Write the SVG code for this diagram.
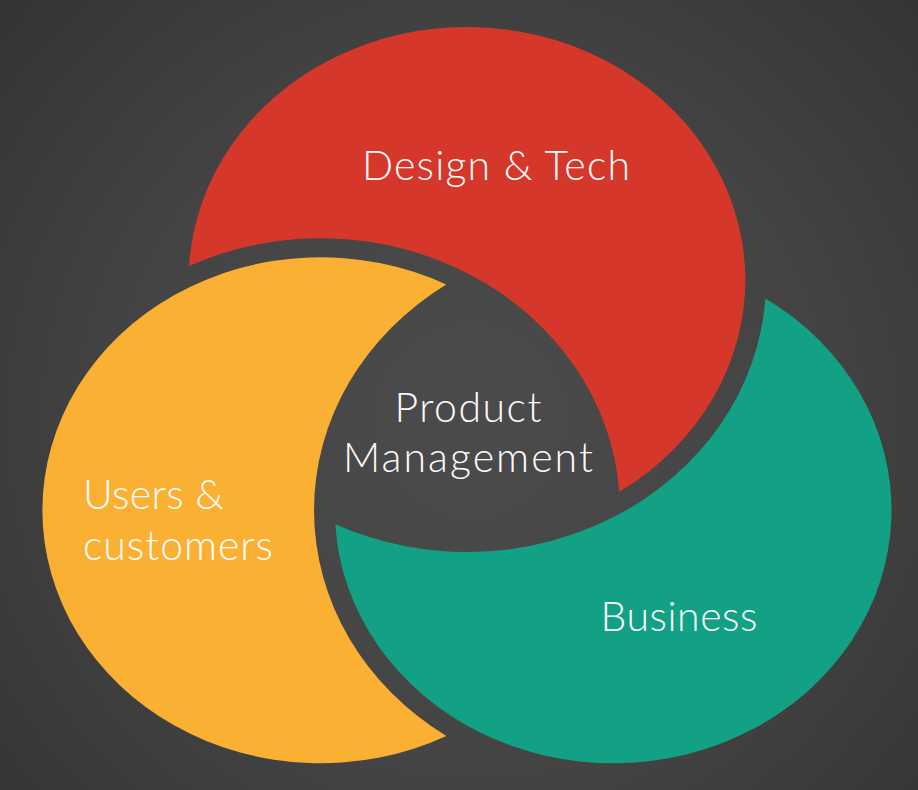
<svg xmlns="http://www.w3.org/2000/svg" xmlns:xlink="http://www.w3.org/1999/xlink" width="918" height="790" viewBox="0 0 918 790">
  <defs>
    <style>
      .lbl { font-family: Lato, "Open Sans", "Liberation Sans", sans-serif; font-size: 41px; font-weight: 300; fill: #fbfbfb; }
      .mid { text-anchor: middle; }
      .red { fill: #d5372a; }
      .yellow { fill: #fab133; }
      .teal { fill: #13a186; }
    </style>
    <radialGradient id="bg" cx="470" cy="420" r="620" gradientUnits="userSpaceOnUse">
      <stop offset="0" stop-color="#4b4b4b"/>
      <stop offset="0.55" stop-color="#444444"/>
      <stop offset="1" stop-color="#343434"/>
    </radialGradient>
    <!-- crescent: circle r253 minus neighbouring circle grown to r272 (drawn in unstretched space) -->
    <path id="crescent" d="M171.9,266.04 A253,253 0 1 1 562.94,491.74 A272,272 0 0 0 171.9,266.04 Z"/>
  </defs>

  <rect id="background" x="0" y="0" width="918" height="790" fill="url(#bg)"/>

  <g id="design-tech">
    <use xlink:href="#crescent" href="#crescent" class="red" transform="scale(1.1,1)"/>
    <text class="lbl mid" x="496" y="180" textLength="268" lengthAdjust="spacing">Design &amp; Tech</text>
  </g>

  <g id="users-customers">
    <use xlink:href="#crescent" href="#crescent" class="yellow" transform="scale(1.1,1) rotate(240 424.5 433.5)"/>
    <text class="lbl" x="83" y="509" textLength="141" lengthAdjust="spacing">Users &amp;</text>
    <text class="lbl" x="83" y="560" textLength="190" lengthAdjust="spacing">customers</text>
  </g>

  <g id="business">
    <use xlink:href="#crescent" href="#crescent" class="teal" transform="scale(1.1,1) rotate(120 424.5 433.5)"/>
    <text class="lbl mid" x="679" y="631" textLength="157" lengthAdjust="spacing">Business</text>
  </g>

  <g id="product-management">
    <text class="lbl mid" x="468" y="422" textLength="147" lengthAdjust="spacing">Product</text>
    <text class="lbl mid" x="468" y="472" textLength="250" lengthAdjust="spacing">Management</text>
  </g>

  <g id="connectors"/>
</svg>
